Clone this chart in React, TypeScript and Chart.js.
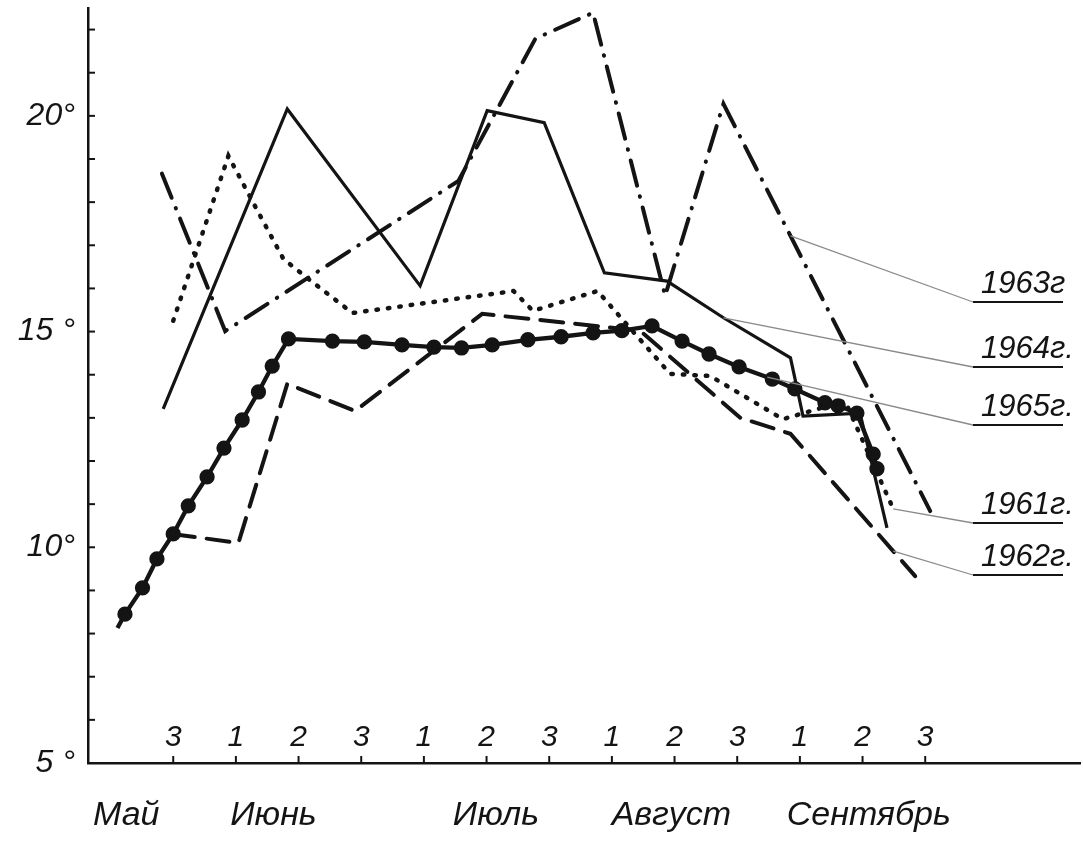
import React, { useEffect, useRef } from 'react';
import { Chart, registerables } from 'chart.js';

Chart.register(...registerables);

// ---- axis labels ----
const monthLabels = ['Май', 'Июнь', 'Июль', 'Август', 'Сентябрь'];
const monthLabelPos = [2.25, 4.6, 8.15, 10.95, 14.1];
const decadeLabels = ['3', '1', '2', '3', '1', '2', '3', '1', '2', '3', '1', '2', '3'];
const decadePos = [3, 4, 5, 6, 7, 8, 9, 10, 11, 12, 13, 14, 15];
const yLabelText: Record<number, string> = { 20: '20°', 15: '15 °', 10: '10°', 5: '5 °' };

// ---- series (x = ten-day period index, May-3 = 3; y = °C) ----
const x1961 = [3.0, 3.88, 4.26, 4.76, 5.14, 5.86, 8.43, 8.74, 9.77, 10.93, 11.57, 12.73, 13.72, 14.49];
const t1961 = [15.25, 19.07, 18.03, 16.68, 16.24, 15.43, 15.94, 15.48, 15.94, 14.02, 13.97, 12.97, 13.39, 10.89];

const x1962 = [2.98, 4.04, 4.82, 5.9, 7.93, 10.45, 12.05, 12.85, 14.84];
const t1962 = [10.31, 10.1, 13.79, 13.16, 15.41, 15.02, 13.0, 12.63, 9.33];

const x1963 = [2.82, 3.83, 7.55, 8.78, 9.7, 10.85, 11.78, 15.08];
const t1963 = [18.66, 15.01, 18.49, 21.79, 22.39, 15.83, 20.28, 10.84];

const x1964 = [2.84, 4.82, 6.94, 8.01, 8.92, 9.88, 10.88, 11.78, 12.85, 13.05, 13.96, 14.39];
const t1964 = [13.21, 20.16, 16.06, 20.12, 19.84, 16.36, 16.17, 15.32, 14.39, 13.04, 13.11, 10.45];

const x1965 = [2.11, 2.23, 2.51, 2.74, 3.0, 3.24, 3.54, 3.81, 4.1, 4.36, 4.58, 4.84, 5.54, 6.05, 6.65, 7.16, 7.6, 8.09, 8.66, 9.19, 9.7, 10.16, 10.64, 11.12, 11.55, 12.03, 12.56, 12.92, 13.4, 13.61, 13.91, 14.17, 14.23];
const t1965 = [8.13, 8.45, 9.06, 9.73, 10.31, 10.96, 11.63, 12.3, 12.95, 13.6, 14.2, 14.83, 14.78, 14.76, 14.69, 14.64, 14.62, 14.69, 14.81, 14.88, 14.97, 15.02, 15.13, 14.78, 14.48, 14.18, 13.9, 13.67, 13.35, 13.28, 13.11, 12.16, 11.82];

// ---- legend (top-to-bottom order) ----
const legendYears = ['1963г', '1964г.', '1965г.', '1961г.', '1962г.'];
const legendAnchorX = [12.85, 11.78, 12.48, 14.49, 14.49];

const INK = '#141414';
const FONT = "'Liberation Sans', 'DejaVu Sans', sans-serif";

function toPts(xs: number[], ys: number[]) {
  return xs.map((x, i) => ({ x, y: ys[i] }));
}

function interp(xs: number[], ys: number[], x: number) {
  for (let i = 0; i < xs.length - 1; i++) {
    if (x >= xs[i] && x <= xs[i + 1]) {
      const f = (x - xs[i]) / (xs[i + 1] - xs[i] || 1);
      return ys[i] + f * (ys[i + 1] - ys[i]);
    }
  }
  return ys[ys.length - 1];
}

const seriesByYear: Record<string, [number[], number[]]> = {
  '1961': [x1961, t1961],
  '1962': [x1962, t1962],
  '1963': [x1963, t1963],
  '1964': [x1964, t1964],
  '1965': [x1965, t1965],
};

const decorPlugin = {
  id: 'decor',
  afterDraw(chart: any) {
    const { ctx, chartArea, scales } = chart;
    const xs = scales.x;
    const ys = scales.y;
    ctx.save();
    ctx.strokeStyle = INK;
    ctx.fillStyle = INK;
    // inward y ticks every degree
    ctx.lineWidth = 2;
    for (let v = 6; v <= 22; v++) {
      const py = ys.getPixelForValue(v);
      ctx.beginPath();
      ctx.moveTo(chartArea.left, py);
      ctx.lineTo(chartArea.left + 7, py);
      ctx.stroke();
    }
    // decade ticks and numbers
    ctx.font = `italic 30px ${FONT}`;
    ctx.textAlign = 'center';
    ctx.textBaseline = 'alphabetic';
    decadePos.forEach((d, i) => {
      const px = xs.getPixelForValue(d);
      ctx.beginPath();
      ctx.moveTo(px, chartArea.bottom);
      ctx.lineTo(px, chartArea.bottom - 7);
      ctx.stroke();
      ctx.fillText(decadeLabels[i], px, chartArea.bottom - 17);
    });
    // legend with leader lines
    const labelLeft = 981;
    const lineLeft = 973;
    const lineRight = 1063;
    const underY = [302, 367, 425, 523, 575];
    legendYears.forEach((lab, i) => {
      const key = lab.slice(0, 4);
      const [sx, sy] = seriesByYear[key];
      const ax = legendAnchorX[i];
      const ay = interp(sx, sy, ax);
      const px = xs.getPixelForValue(ax);
      const py = ys.getPixelForValue(ay);
      const uy = underY[i];
      ctx.strokeStyle = '#8a8a8a';
      ctx.lineWidth = 1.3;
      ctx.beginPath();
      ctx.moveTo(px, py);
      ctx.lineTo(lineLeft, uy);
      ctx.stroke();
      ctx.strokeStyle = INK;
      ctx.lineWidth = 2;
      ctx.beginPath();
      ctx.moveTo(lineLeft, uy);
      ctx.lineTo(lineRight, uy);
      ctx.stroke();
      ctx.font = `italic 31px ${FONT}`;
      ctx.textAlign = 'left';
      ctx.fillText(lab, labelLeft, uy - 9);
    });
    ctx.restore();
  },
};

export default function App() {
  const ref = useRef<HTMLCanvasElement | null>(null);
  useEffect(() => {
    if (!ref.current) return;
    const chart = new Chart(ref.current, {
      type: 'line',
      data: {
        datasets: [
          {
            label: '1961',
            data: toPts(x1961, t1961),
            borderColor: INK,
            borderWidth: 4.5,
            borderDash: [1.5, 10],
            borderCapStyle: 'round',
            pointRadius: 0,
            tension: 0,
          },
          {
            label: '1962',
            data: toPts(x1962, t1962),
            borderColor: INK,
            borderWidth: 4,
            borderDash: [23, 12],
            borderCapStyle: 'round',
            pointRadius: 0,
            tension: 0,
          },
          {
            label: '1963',
            data: toPts(x1963, t1963),
            borderColor: INK,
            borderWidth: 4,
            borderDash: [26, 11, 0.5, 11],
            borderCapStyle: 'round',
            pointRadius: 0,
            tension: 0,
          },
          {
            label: '1964',
            data: toPts(x1964, t1964),
            borderColor: INK,
            borderWidth: 3.2,
            pointRadius: 0,
            tension: 0,
          },
          {
            label: '1965',
            data: toPts(x1965, t1965),
            borderColor: INK,
            borderWidth: 4.3,
            backgroundColor: INK,
            pointBackgroundColor: INK,
            pointBorderColor: INK,
            pointRadius: x1965.map((_, i) => (i === 0 ? 0 : 5.5)),
            tension: 0,
          },
        ],
      } as any,
      options: {
        animation: false,
        responsive: true,
        maintainAspectRatio: false,
        layout: { autoPadding: false, padding: { top: 8, right: 3, left: 0, bottom: 0 } },
        plugins: { legend: { display: false }, tooltip: { enabled: false } },
        elements: { line: { fill: false } },
        scales: {
          x: {
            type: 'linear',
            min: 1.64,
            max: 17.47,
            grid: { display: false, drawTicks: false },
            border: { display: true, color: INK, width: 2.5 },
            afterBuildTicks: (scale: any) => {
              scale.ticks = monthLabelPos.map((v) => ({ value: v }));
            },
            afterFit: (scale: any) => {
              scale.height = 78;
              scale.paddingLeft = 0;
              scale.paddingRight = 0;
            },
            ticks: {
              autoSkip: false,
              maxRotation: 0,
              padding: 32,
              color: INK,
              font: { family: FONT, size: 34, style: 'italic' },
              callback: (_v: any, i: number) => monthLabels[i],
            },
          },
          y: {
            type: 'linear',
            min: 5,
            max: 22.5,
            grid: { display: false, drawTicks: false },
            border: { display: true, color: INK, width: 2.5 },
            afterBuildTicks: (scale: any) => {
              scale.ticks = [5, 10, 15, 20].map((v) => ({ value: v }));
            },
            afterFit: (scale: any) => {
              scale.width = 88;
              scale.paddingTop = 0;
              scale.paddingBottom = 0;
            },
            ticks: {
              padding: 13,
              color: INK,
              font: { family: FONT, size: 32, style: 'italic' },
              callback: (v: any) => yLabelText[Number(v)] ?? '',
            },
          },
        },
      } as any,
      plugins: [decorPlugin],
    });
    return () => chart.destroy();
  }, []);
  return (
    <div style={{ position: 'absolute', left: 0, top: 0, width: 1083, height: 841, background: '#fff' }}>
      <canvas ref={ref} />
    </div>
  );
}
